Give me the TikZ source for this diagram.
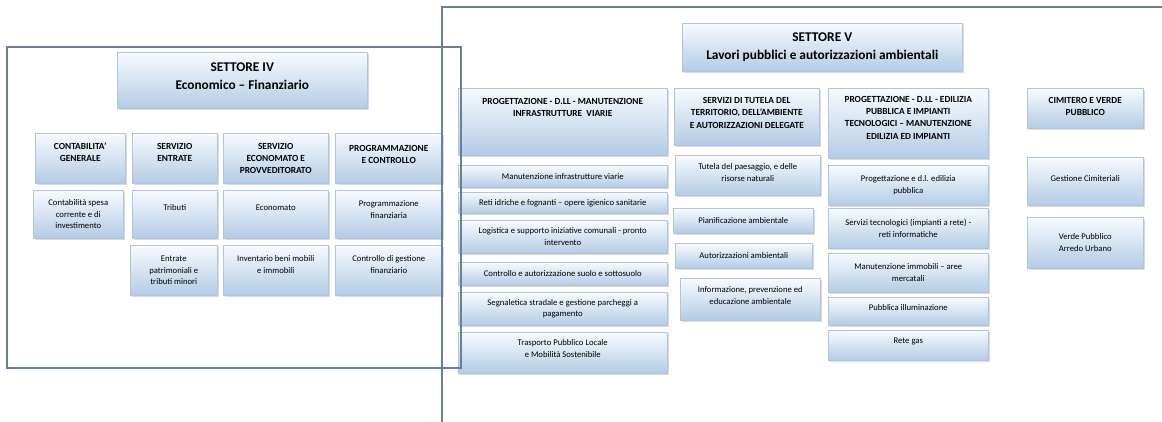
\documentclass[tikz,border=0pt]{standalone}
\usepackage{fontspec}
\setmainfont{Carlito}
\usepackage{tikz}
\usetikzlibrary{shadows}
\newdimen\px
\px=0.75pt
\hyphenpenalty=10000
\definecolor{cornice}{RGB}{105,128,156}
\definecolor{bordo}{RGB}{178,196,216}
\definecolor{celesteA}{RGB}{248,251,254}
\definecolor{celesteB}{RGB}{180,203,230}

\begin{document}
\begin{tikzpicture}[x = .75pt, y = -.75pt,
  cella/.style n args = {3}{draw = bordo, line width = .4pt, top color = celesteA, bottom color = celesteB,
    inner xsep = 1pt, inner ysep = 0pt, anchor = north west,
    drop shadow = {shadow xshift = 1.3pt, shadow yshift = -1.3pt, fill = black!28},
    execute at begin node = {\begin{minipage}[t][#2\px][c]{\dimexpr#1\px-2.67\px\relax}\centering},
    execute at end node = {\endgraf\vspace{#3\px}\end{minipage}}},
  titolo/.style = {font = \bfseries\fontsize{10}{14}\selectfont},
  testa/.style = {font = \bfseries\fontsize{7}{9.2}\selectfont},
  voce/.style = {font = \fontsize{6.5}{8.8}\selectfont},
  riquadro/.style = {draw = cornice, line width = .9pt}]
\path[use as bounding box, clip] (0,0) rectangle (1162,421);
% settore IV
\node[cella = {250}{56}{8}, titolo] (settoreIV) at (117,52) {SETTORE IV\\Economico – Finanziario};
\node[cella = {90}{50}{12}, testa] (contabilita) at (35,133) {CONTABILITA'\\GENERALE};
\node[cella = {85}{50}{12}, testa] (entrate) at (132,133) {SERVIZIO\\ENTRATE};
\node[cella = {105}{50}{0}, testa] (economato) at (223,133) {SERVIZIO\\ECONOMATO E\\PROVVEDITORATO};
\node[cella = {107}{50}{8}, testa] (programmazione) at (335,133) {PROGRAMMAZIONE\\E CONTROLLO};
\node[cella = {90}{48}{0}, voce] (spesa) at (33,190) {Contabilità spesa\\corrente e di\\investimento};
\node[cella = {85}{48}{14}, voce] (tributi) at (132,190) {Tributi};
\node[cella = {105}{48}{14}, voce] (econ) at (223,190) {Economato};
\node[cella = {107}{48}{10}, voce] (progfin) at (335,190) {Programmazione\\finanziaria};
\node[cella = {87}{50}{0}, voce] (patrimoniali) at (130,245) {Entrate\\patrimoniali e\\tributi minori};
\node[cella = {105}{50}{12}, voce] (inventario) at (223,245) {Inventario beni mobili\\e immobili};
\node[cella = {107}{50}{12}, voce] (gestione) at (335,245) {Controllo di gestione\\finanziario};
% settore V
\node[cella = {280}{48}{0}, titolo] (settoreV) at (682,23) {SETTORE V\\Lavori pubblici e autorizzazioni ambientali};
\node[cella = {209}{67}{29}, testa] (infrastrutture) at (458,88) {PROGETTAZIONE - D.LL - MANUTENZIONE\\INFRASTRUTTURE \ VIARIE};
\node[cella = {209}{22}{0}, voce] (viarie) at (458,165) {Manutenzione infrastrutture viarie};
\node[cella = {209}{21}{0}, voce] (reti) at (458,192) {Reti idriche e fognanti – opere igienico sanitarie};
\node[cella = {209}{33}{0}, voce] (logistica) at (458,220) {Logistica e supporto iniziative comunali - pronto\\intervento};
\node[cella = {209}{23}{0}, voce] (suolo) at (458,262) {Controllo e autorizzazione suolo e sottosuolo};
\node[cella = {209}{33}{0}, voce] (segnaletica) at (458,292) {Segnaletica stradale e gestione parcheggi a\\pagamento};
\node[cella = {209}{41}{8}, voce] (trasporto) at (458,332) {Trasporto Pubblico Locale\\e Mobilità Sostenibile};
\node[cella = {145}{57}{8}, testa] (tutela) at (674,88) {SERVIZI DI TUTELA DEL\\TERRITORIO, DELL'AMBIENTE\\E AUTORIZZAZIONI DELEGATE};
\node[cella = {145}{40}{6}, voce] (paesaggio) at (675,155) {Tutela del paesaggio, e delle\\risorse naturali};
\node[cella = {140}{25}{0}, voce] (pianificazione) at (673,208) {Pianificazione ambientale};
\node[cella = {137}{25}{0}, voce] (autorizzazioni) at (675,243) {Autorizzazioni ambientali};
\node[cella = {140}{42}{8}, voce] (informazione) at (680,278) {Informazione, prevenzione ed\\educazione ambientale};
\node[cella = {160}{70}{11}, testa] (edilizia) at (828,88) {PROGETTAZIONE - D.LL - EDILIZIA\\PUBBLICA E IMPIANTI\\TECNOLOGICI – MANUTENZIONE\\EDILIZIA ED IMPIANTI};
\node[cella = {160}{40}{0}, voce] (dlEdilizia) at (828,165) {Progettazione e d.l. edilizia\\pubblica};
\node[cella = {160}{40}{0}, voce] (tecnologici) at (828,208) {Servizi tecnologici (impianti a rete) -\\reti informatiche};
\node[cella = {160}{39}{0}, voce] (immobili) at (828,253) {Manutenzione immobili – aree\\mercatali};
\node[cella = {160}{28}{8}, voce] (illuminazione) at (828,297) {Pubblica illuminazione};
\node[cella = {160}{30}{8}, voce] (gas) at (828,330) {Rete gas};
\node[cella = {116}{40}{4}, testa] (cimitero) at (1027,88) {CIMITERO E VERDE\\PUBBLICO};
\node[cella = {116}{48}{6}, voce] (cimiteriali) at (1027,157) {Gestione Cimiteriali};
\node[cella = {116}{51}{0}, voce] (verde) at (1027,217) {Verde Pubblico\\Arredo Urbano};
% cornici dei settori
\draw[riquadro] (7,47) rectangle (461,368);
\draw[riquadro] (442,7) rectangle (1180,440);
\end{tikzpicture}
\end{document}
